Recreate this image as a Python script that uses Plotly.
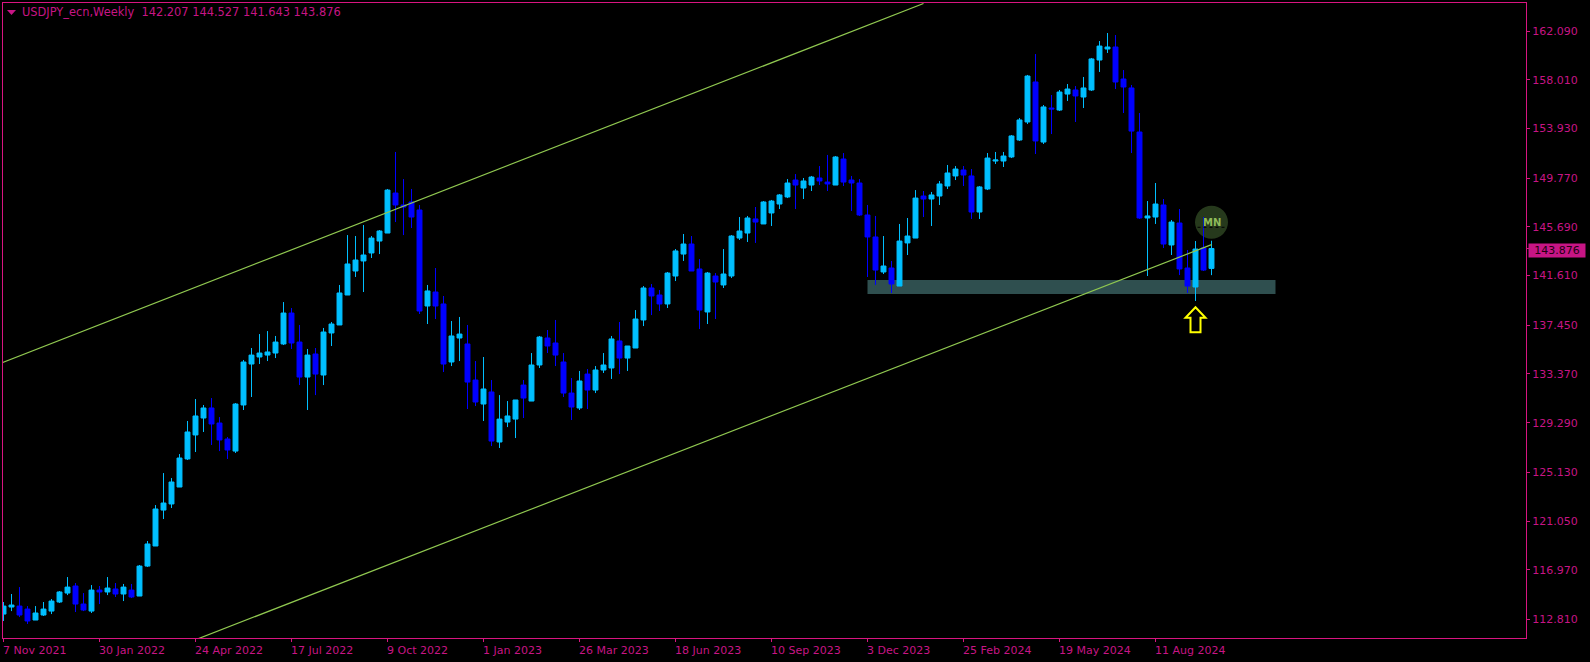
import pandas as pd
import plotly.graph_objects as go

opens = [113.26,113.85,113.93,113.68,112.76,113.18,113.51,114.27,115.02,115.61,
114.10,113.51,115.27,115.11,115.36,114.94,115.27,114.77,117.28,118.96,
121.97,122.48,123.90,126.25,128.26,129.68,130.52,129.26,127.92,126.91,
130.77,134.20,134.79,134.95,135.12,135.88,138.47,136.04,133.11,135.04,
133.28,136.80,137.47,139.98,141.99,142.83,143.50,144.50,145.17,148.52,
147.52,147.77,147.10,139.06,140.23,139.23,134.37,136.38,135.88,132.86,
130.85,131.86,127.67,129.34,129.59,132.44,131.10,134.12,136.38,135.96,
134.37,131.77,130.52,133.36,132.02,133.70,133.87,136.13,134.70,135.54,
137.89,140.57,139.98,139.23,141.57,143.41,144.25,142.16,138.56,141.57,
140.82,141.57,144.75,145.17,146.35,145.93,146.85,147.60,148.19,149.61,
148.94,149.19,149.78,149.44,149.19,151.37,149.61,149.36,146.68,144.84,
141.91,142.24,140.73,144.34,144.75,148.27,148.02,148.27,149.11,149.95,
150.45,149.95,146.93,148.86,151.20,151.20,151.54,152.96,154.47,157.82,
152.79,155.64,155.47,156.81,157.15,156.56,157.15,159.66,160.58,160.75,
158.07,157.32,153.63,146.43,146.51,147.52,144.17,146.01,142.24,140.65,
143.92,142.207]
highs = [114.27,114.94,115.52,113.93,113.93,114.27,114.52,115.19,116.36,115.86,
115.02,115.69,115.61,116.36,115.86,115.78,115.78,117.37,119.38,122.39,
125.07,124.65,126.66,129.43,131.27,130.77,131.35,129.76,128.09,130.93,
134.54,135.54,136.71,136.96,136.55,139.39,138.89,137.47,135.46,135.54,
137.22,137.72,140.82,145.00,144.92,145.84,144.92,145.42,148.86,151.96,
149.69,148.86,147.52,140.82,142.24,139.90,137.80,138.14,137.47,134.45,
134.79,132.86,131.60,131.10,131.19,132.86,135.12,136.55,137.05,137.89,
135.12,133.03,133.62,133.78,134.03,135.12,136.55,137.72,135.71,138.72,
140.73,140.90,140.40,141.91,143.83,145.09,144.92,142.99,141.91,141.82,
143.83,145.00,146.51,146.60,147.35,147.85,147.94,148.44,149.69,150.11,
149.78,149.95,150.78,151.71,151.62,151.87,149.95,149.69,147.52,146.60,
144.92,142.83,145.93,146.43,148.77,148.69,148.61,149.53,150.87,150.78,
150.78,150.53,149.11,151.87,151.96,151.96,153.38,154.80,158.41,160.16,
155.89,156.73,157.15,157.65,157.48,158.24,159.83,161.25,161.92,161.75,
158.82,157.57,155.22,147.85,149.36,148.02,146.26,147.18,143.75,144.50,
146.51,144.527]
lows = [112.68,113.51,113.01,112.43,112.76,113.10,113.26,114.19,114.85,113.43,
113.51,113.35,114.10,114.85,114.69,114.35,114.60,114.77,117.20,118.96,
121.22,122.14,123.90,126.16,126.83,128.51,127.42,126.91,126.25,126.75,
130.35,131.44,134.20,134.45,134.70,135.79,135.46,132.44,130.35,131.60,
132.44,135.71,137.47,139.98,141.49,140.23,143.08,143.41,145.17,146.09,
145.00,145.59,138.39,137.55,137.97,133.53,134.03,134.45,130.43,130.68,
129.43,127.33,127.17,128.92,128.00,129.68,131.10,133.87,135.12,134.03,
131.44,129.51,130.35,130.43,131.77,133.45,132.95,133.36,133.62,135.54,
137.38,138.30,138.64,138.89,141.15,142.83,141.99,137.13,137.55,137.97,
140.57,141.40,144.59,144.42,144.34,145.93,145.76,147.18,148.10,147.18,
148.02,148.69,149.19,148.69,149.19,149.11,147.02,146.60,141.49,140.82,
141.74,140.15,140.73,143.33,144.75,146.51,145.76,147.52,148.86,149.61,
149.11,146.35,146.35,148.77,150.95,150.70,151.45,152.88,154.30,151.79,
152.63,153.46,155.39,156.23,154.47,155.64,157.07,158.66,160.25,157.23,
155.22,151.87,146.35,141.57,145.93,143.92,143.33,141.65,140.15,139.48,
141.99,141.643]
closes = [113.93,114.02,113.18,112.68,113.35,113.68,114.35,115.11,115.52,114.10,
113.60,115.27,115.11,115.44,114.94,115.52,114.69,117.28,119.13,122.06,
122.56,124.32,126.33,128.51,129.85,130.52,129.18,127.84,127.00,130.85,
134.37,134.95,135.12,135.21,136.04,138.47,135.96,133.11,134.95,133.36,
136.88,137.55,140.15,142.58,142.91,143.33,144.75,145.34,148.77,147.52,
147.35,146.51,138.64,140.32,139.06,134.20,136.55,136.71,132.69,131.02,
132.11,127.75,129.59,129.85,131.19,131.35,134.12,136.46,135.71,134.95,
131.77,130.60,132.78,132.02,133.70,134.12,136.30,134.70,135.71,137.97,
140.57,139.90,139.23,141.82,143.67,144.25,141.99,138.72,141.82,141.07,
141.74,144.92,145.34,146.43,146.09,147.77,147.85,148.36,149.36,149.19,
149.53,149.86,149.53,149.28,151.54,149.44,149.36,146.68,144.84,142.07,
142.41,140.90,144.50,144.92,148.10,148.02,148.36,149.28,150.20,150.53,
150.03,146.93,149.03,151.45,151.29,151.62,153.30,154.64,158.32,152.88,
155.73,155.56,156.98,157.23,156.65,157.32,159.75,160.83,160.75,157.82,
157.40,153.71,146.43,146.60,147.60,144.25,146.09,142.16,140.73,143.83,
142.07,143.876]

first_week = "2021-11-07"
week_count = 152
price_ticks = [162.09,158.01,153.93,149.77,145.69,141.61,137.45,133.37,129.29,125.13,121.05,116.97,112.81]
date_tick_labels = ["7 Nov 2021","30 Jan 2022","24 Apr 2022","17 Jul 2022","9 Oct 2022","1 Jan 2023",
                    "26 Mar 2023","18 Jun 2023","10 Sep 2023","3 Dec 2023","25 Feb 2024","19 May 2024","11 Aug 2024"]
date_tick_values = ["2021-11-07","2022-01-30","2022-04-24","2022-07-17","2022-10-09","2023-01-01",
                    "2023-03-26","2023-06-18","2023-09-10","2023-12-03","2024-02-25","2024-05-19","2024-08-11"]
header_text = "USDJPY_ecn,Weekly  142.207 144.527 141.643 143.876"
last_price = 143.876

upper_channel_dates = ["2021-10-31", "2024-01-21"]
upper_channel_prices = [134.10, 164.39]
lower_channel_dates = ["2022-04-24", "2024-09-29"]
lower_channel_prices = [111.11, 144.20]

zone_dates = ["2023-12-03", "2024-11-24"]
zone_prices = [140.06, 141.24]
badge_date = "2024-09-29"
badge_price = 146.07
arrow_date = "2024-09-15"
arrow_price = 138.96

UP, DOWN = "#00BFFF", "#0000FF"
TEXT, FRAME = "#C71585", "#D81580"
FONT = "DejaVu Sans"
W, H = 1590, 662
ML, MR, MT, MB = 3, 64, 3, 24

weeks = pd.date_range(first_week, periods=week_count, freq="7D")
t0 = pd.Timestamp(first_week)
x_range = [(t0 + pd.Timedelta(weeks=-0.0625)).isoformat(), (t0 + pd.Timedelta(weeks=190.3125)).isoformat()]
y_range = [111.256, 164.435]

def px(x):
    return (x - ML) / (W - ML - MR)

def py(y):
    return 1 - (y - MT) / (H - MT - MB)

fig = go.Figure()
for ds, ps in ((upper_channel_dates, upper_channel_prices), (lower_channel_dates, lower_channel_prices)):
    fig.add_trace(go.Scatter(x=ds, y=ps, mode="lines", line=dict(color="#90C850", width=1.2), hoverinfo="skip", showlegend=False))
fig.add_trace(go.Candlestick(
    x=weeks, open=opens, high=highs, low=lows, close=closes, showlegend=False, whiskerwidth=0,
    increasing=dict(line=dict(color=UP, width=1), fillcolor=UP),
    decreasing=dict(line=dict(color=DOWN, width=1), fillcolor=DOWN),
))

shapes = [
    dict(type="rect", layer="below", xref="x", yref="y", x0=zone_dates[0], x1=zone_dates[1],
         y0=zone_prices[0], y1=zone_prices[1], fillcolor="#2F4F4F", line_width=0),
    dict(type="circle", layer="below", xref="x", yref="y", xsizemode="pixel", ysizemode="pixel",
         xanchor=badge_date, yanchor=badge_price, x0=-16.5, x1=16.5, y0=-16.5, y1=16.5,
         fillcolor="#26391C", line_width=0),
    dict(type="line", layer="above", xref="x", yref="y", xsizemode="pixel", ysizemode="pixel",
         xanchor=badge_date, yanchor=badge_price, x0=-14, x1=14, y0=-5, y1=-5,
         line=dict(color="#000000", width=1, dash="3px,3px")),
    dict(type="path", layer="above", xref="x", yref="y", xsizemode="pixel", ysizemode="pixel",
         xanchor=arrow_date, yanchor=arrow_price,
         path="M0,0 L10,-10.5 L5,-10.5 L5,-25 L-5,-25 L-5,-10.5 L-10,-10.5 Z",
         fillcolor="#000000", line=dict(color="#FFFF00", width=2)),
    dict(type="path", layer="above", xref="paper", yref="paper",
         path=f"M{px(7)},{py(10)} L{px(16)},{py(10)} L{px(11.5)},{py(15)} Z",
         fillcolor=TEXT, line_width=0),
]

annotations = [
    dict(x=badge_date, y=badge_price, xref="x", yref="y", text="<b>MN</b>", showarrow=False,
         font=dict(family=FONT, size=10, color="#8FBC5A")),
    dict(x=px(21), y=py(12.5), xref="paper", yref="paper", xanchor="left", yanchor="middle",
         text=header_text.replace("  ", "&nbsp;&nbsp;"), showarrow=False,
         font=dict(family=FONT, size=11.4, color=TEXT), borderpad=0),
    dict(x=1, y=last_price, xref="paper", yref="y", xanchor="left", yanchor="middle", xshift=2, yshift=-2, text="143.876",
         showarrow=False, font=dict(family=FONT, size=11, color="#200010"), bgcolor=TEXT,
         width=56, height=13, align="center", borderpad=0),
]
for d, label in zip(date_tick_values, date_tick_labels):
    annotations.append(dict(x=d, y=0, xref="x", yref="paper", xanchor="left", yanchor="top", yshift=-5, xshift=-2,
                            text=label, showarrow=False, font=dict(family=FONT, size=11, color=TEXT), borderpad=0))

fig.update_layout(
    width=W, height=H, margin=dict(l=ML, r=MR, t=MT, b=MB, pad=0),
    paper_bgcolor="#000000", plot_bgcolor="#000000", boxgap=0.12,
    font=dict(family=FONT, size=11, color=TEXT), showlegend=False,
    xaxis=dict(type="date", range=x_range, rangeslider=dict(visible=False), showgrid=False, zeroline=False,
               showline=True, mirror=True, linecolor=FRAME, linewidth=1, ticks="outside", ticklen=3, tickwidth=1,
               tickcolor=FRAME, tickvals=date_tick_values, showticklabels=False),
    yaxis=dict(range=y_range, side="right", showgrid=False, zeroline=False, showline=True, mirror=True,
               linecolor=FRAME, linewidth=1, ticks="outside", ticklen=3, tickwidth=1, tickcolor=FRAME,
               tickvals=price_ticks + [last_price], ticktext=[f"{v:.3f}" for v in price_ticks] + [""],
               tickfont=dict(family=FONT, size=11, color=TEXT)),
    shapes=shapes, annotations=annotations,
)

fig.write_html("out.html", config=dict(displayModeBar=False),
               post_script="document.body.style.margin='0';document.body.style.overflow='hidden';")
